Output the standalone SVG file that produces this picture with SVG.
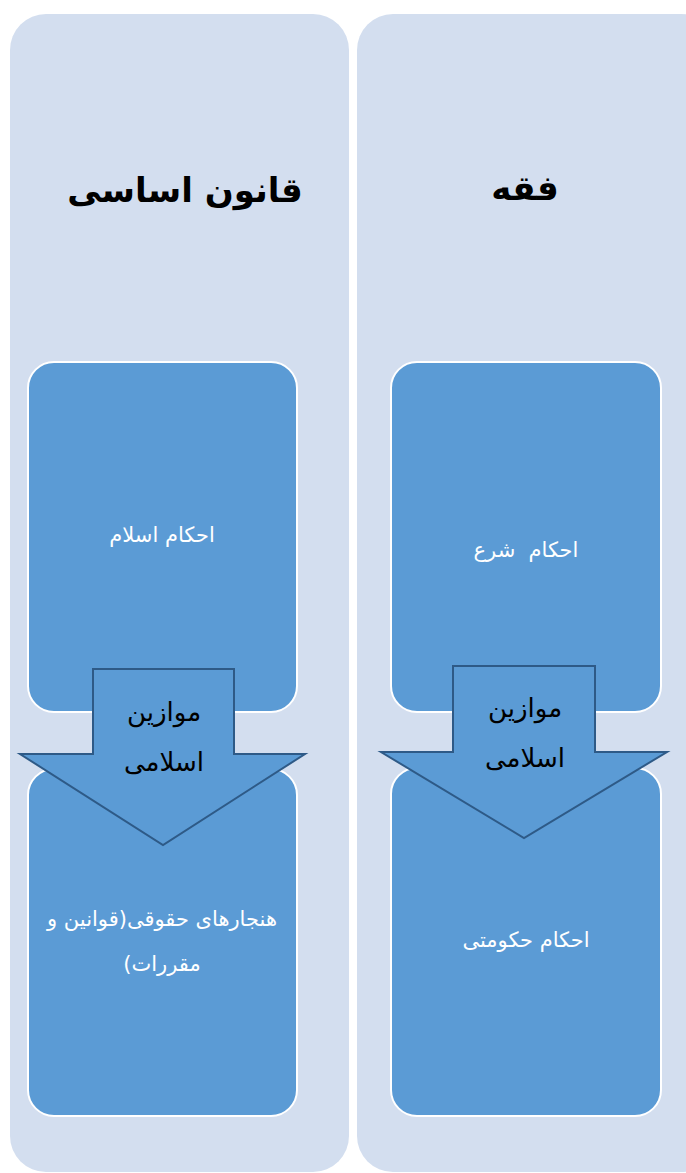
<svg xmlns="http://www.w3.org/2000/svg" width="686" height="1173" viewBox="0 0 686 1173">
<style>
.col{fill:#D3DEEF;}
.box{fill:#5B9BD5;stroke:#FFFFFF;stroke-width:2;}
.arrow{fill:#5B9BD5;stroke:#2E5A87;stroke-width:2;}
.title{font-family:"DejaVu Sans",sans-serif;font-weight:bold;font-size:34px;fill:#000;text-anchor:middle;}
.lbl{font-family:"DejaVu Sans",sans-serif;font-size:21px;fill:#FFFFFF;text-anchor:middle;white-space:pre;}
.alb{font-family:"DejaVu Sans",sans-serif;font-size:26px;fill:#000;text-anchor:middle;}
</style>
<rect width="686" height="1173" fill="#FFFFFF"/>
<g id="col-left">
<rect class="col" x="10" y="14" width="339" height="1158" rx="36"/>
<text class="title" x="185" y="202" direction="rtl">قانون اساسی</text>
</g>
<g id="col-right">
<rect class="col" x="357" y="14" width="360" height="1158" rx="36"/>
<text class="title" x="525" y="200" direction="rtl">فقه</text>
</g>
<g id="box-left-top">
<rect class="box" x="28" y="362" width="269" height="350" rx="26"/>
<text class="lbl" x="162" y="542" direction="rtl">احکام اسلام</text>
</g>
<g id="box-left-bottom">
<rect class="box" x="28" y="769" width="269" height="347" rx="26"/>
<text class="lbl" x="162" y="926" direction="rtl">هنجارهای حقوقی(قوانین و</text>
<text class="lbl" x="162" y="971" direction="rtl">مقررات)</text>
</g>
<g id="box-right-top">
<rect class="box" x="391" y="362" width="270" height="350" rx="26"/>
<text class="lbl" x="526" y="557" direction="rtl" xml:space="preserve">احکام  شرع</text>
</g>
<g id="box-right-bottom">
<rect class="box" x="391" y="768" width="270" height="348" rx="26"/>
<text class="lbl" x="526" y="947" direction="rtl">احکام حکومتی</text>
</g>
<g id="connectors">
<g id="arrow-left">
<polygon class="arrow" points="93,669 234,669 234,754 305,754 163,845 20,754 93,754"/>
<text class="alb" x="164" y="721" direction="rtl">موازین</text>
<text class="alb" x="164" y="771" direction="rtl">اسلامی</text>
</g>
<g id="arrow-right">
<polygon class="arrow" points="453,666 595,666 595,752 667,752 524,838 381,752 453,752"/>
<text class="alb" x="525" y="717" direction="rtl">موازین</text>
<text class="alb" x="525" y="767" direction="rtl">اسلامی</text>
</g>
</g>
</svg>
